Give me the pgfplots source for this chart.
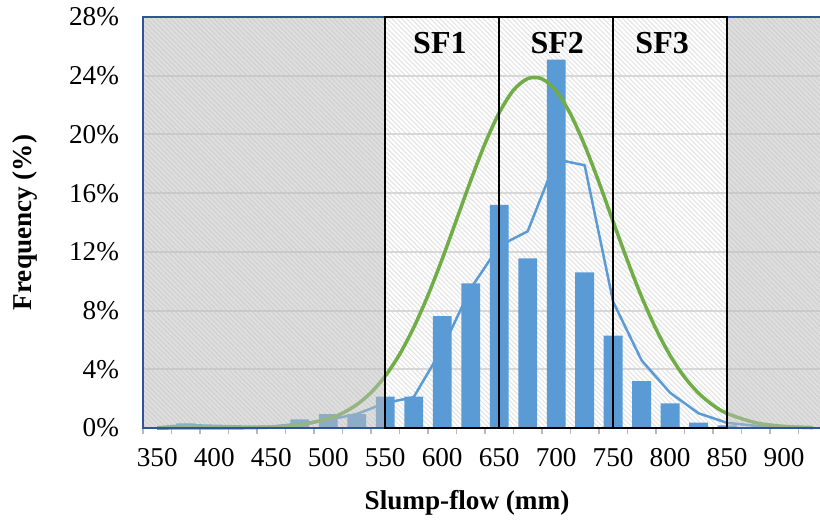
\documentclass[border=0pt]{standalone}
\usepackage{pgfplots}
\pgfplotsset{compat=1.18}
\usetikzlibrary{patterns.meta}
\usepackage{fontspec}
\setmainfont{Liberation Serif}
\definecolor{barblue}{RGB}{91,155,213}
\definecolor{fitgreen}{RGB}{112,173,71}
\definecolor{frameblue}{RGB}{47,85,151}
\definecolor{gridgray}{RGB}{215,215,215}
\definecolor{shadegray}{RGB}{189,189,189}
\begin{document}
\begin{tikzpicture}
\begin{axis}[
  set layers,
  scale only axis, width=338.5pt, height=205.5pt,
  xmin=337.5, xmax=931.5, ymin=0, ymax=28,
  clip=false,
  axis line style={draw=none},
  xtick={350,400,...,900},
  minor xtick={337.5,362.5,...,912.5},
  major tick length=0pt,
  minor tick length=3pt,
  tick align=outside,
  xtick pos=bottom,
  minor tick style={draw=gray!55, line width=0.7pt},
  ytick={0,4,...,28},
  ytick style={draw=none},
  ymajorgrids,
  grid style={draw=gridgray, line width=1pt},
  yticklabel={\pgfmathprintnumber{\tick}\%},
  /pgf/number format/assume math mode=true,
  tick label style={font=\fontsize{13.6}{15}\selectfont},
  xticklabel style={yshift=-6.6pt},
  yticklabel style={xshift=-8.5pt},
  xlabel={Slump-flow (mm)},
  ylabel={Frequency (\%)},
  label style={font=\fontsize{13.6}{15}\selectfont\bfseries},
  xlabel style={at={(axis description cs:0.4786,0)}, anchor=center, yshift=-37.5pt},
  ylabel style={at={(axis description cs:0,0.5)}, anchor=center, yshift=59pt},
]
\begin{pgfonlayer}{axis background}
  \fill[white] (axis cs:550,0) rectangle (axis cs:850,28);
  \fill[pattern={Lines[angle=-45,distance=1.7pt,line width=0.5pt]}, pattern color=gray!22] (axis cs:337.5,0) rectangle (axis cs:931.5,28);
\end{pgfonlayer}

% histogram bars
\addplot[ybar, bar width=16.5, fill=barblue, draw=none] coordinates {
(375,0.32) (475,0.59) (500,0.95) (525,0.95) (550,2.13) (575,2.13)
(600,7.63) (625,9.85) (650,15.2) (675,11.55) (700,25.1) (725,10.6)
(750,6.3) (775,3.2) (800,1.68) (825,0.36) (850,0.18)
};

% blue frequency line
\addplot[barblue, line width=1.25pt, line join=round, no markers] coordinates {
(350,0.05) (375,0.2) (400,0.15) (425,0.1) (450,0.1) (475,0.3) (500,0.55)
(525,0.95) (550,1.7) (575,2.1) (600,5.4) (625,9.5) (650,12.4) (675,13.4)
(700,18.3) (725,17.9) (750,8.6) (775,4.6) (800,2.4) (825,1.0) (850,0.35)
(875,0.15) (900,0.1) (925,0.05)
};

% green normal fit
\addplot[fitgreen, line width=1.75pt, smooth, no markers] coordinates {
(350,0.0001) (375,0.0007) (400,0.0036) (425,0.016) (450,0.063) (475,0.212)
(500,0.622) (512.5,1.012) (525,1.589) (537.5,2.41) (550,3.535) (562.5,5.00)
(575,6.84) (587.5,9.03) (600,11.51) (612.5,14.17) (625,16.85) (637.5,19.36)
(650,21.47) (662.5,23.01) (675,23.80) (687.5,23.79) (700,22.96) (712.5,21.40)
(725,19.26) (737.5,16.75) (750,14.06) (762.5,11.41) (775,8.93) (787.5,6.76)
(800,4.94) (812.5,3.48) (825,2.37) (837.5,1.56) (850,0.99) (875,0.36)
(900,0.11) (925,0.03)
};

% grey shaded zones
\fill[shadegray, fill opacity=0.5] (axis cs:337.5,0) rectangle (axis cs:550,28);
\fill[shadegray, fill opacity=0.5] (axis cs:850,0) rectangle (axis cs:931.5,28);
\draw[frameblue, line width=1pt] (axis cs:550,28) -- (axis cs:337.5,28) -- (axis cs:337.5,0) -- (axis cs:550,0);
\draw[frameblue, line width=1pt] (axis cs:850,28) -- (axis cs:931.5,28);
\draw[frameblue, line width=1pt] (axis cs:850,0) -- (axis cs:931.5,0);

% SF class boxes
\draw[black, line width=1.3pt] (axis cs:550,0) rectangle (axis cs:850,28);
\draw[black, line width=1.3pt] (axis cs:650,0) -- (axis cs:650,28);
\draw[black, line width=1.3pt] (axis cs:750,0) -- (axis cs:750,28);

\node[font=\fontsize{16}{18}\selectfont\bfseries] at (axis cs:598,26.2) {SF1};
\node[font=\fontsize{16}{18}\selectfont\bfseries] at (axis cs:701,26.2) {SF2};
\node[font=\fontsize{16}{18}\selectfont\bfseries] at (axis cs:793,26.2) {SF3};
\end{axis}
\pgfresetboundingbox
\path[use as bounding box] (-71.5pt,-46.5pt) rectangle (338.5pt,214pt);
\end{tikzpicture}
\end{document}
